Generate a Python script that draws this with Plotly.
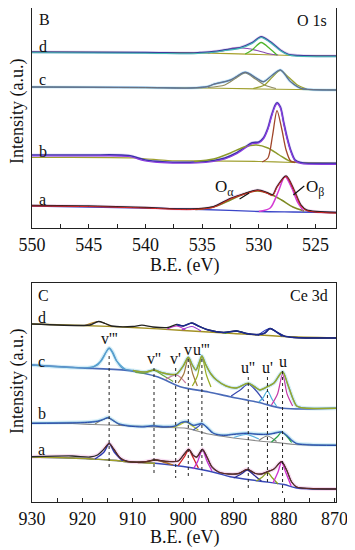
import plotly.graph_objects as go

# ---------------- O 1s panel (B) ----------------
# y in arbitrary intensity units (offset stacked spectra)
Od_E   = [550, 540, 536, 535.2, 534, 533.1, 531.6, 530.6, 529.8, 529.0, 528.1, 527.4, 526.5, 523.2]
Od_raw = [176, 175.5, 175, 175.5, 176.5, 178, 180.7, 185.3, 191.3, 186.3, 178, 173.7, 172.5, 172]
Od_bgE = [550, 540, 535, 530, 527, 523.2]
Od_bg  = [176, 175.5, 175, 173.5, 172.5, 172]
Od_c1E = [534.5, 533.0, 532.3, 531.0, 530.0, 529.0, 528.3]
Od_c1  = [175.2, 177.5, 180, 179.5, 177, 174, 173]
Od_c2E = [531.2, 530.6, 529.8, 529.0, 528.4]
Od_c2  = [174, 178, 185.5, 179, 173]

Oc_E   = [550, 540, 536, 534.5, 534, 532.5, 531.2, 530.2, 529.6, 528.8, 528.1, 527.2, 526.3, 525.5, 523.2]
Oc_raw = [141, 140.5, 140, 141.5, 143.7, 148, 155.7, 149.7, 146.3, 153, 158, 146.3, 139.7, 138.5, 138]
Oc_bgE = [550, 535, 530, 523.2]
Oc_bg  = [141, 140, 139, 138]
Oc_c1E = [534.5, 533.0, 532.0, 531.2, 530.3, 529.5, 528.5]
Oc_c1  = [140.5, 143, 150, 155, 149, 143, 139.5]
Oc_c2E = [530.5, 529.5, 528.8, 528.1, 527.4, 526.6, 525.8]
Oc_c2  = [139.5, 143, 151, 157.5, 151, 143, 139]

Ob_E   = [550, 545, 541.5, 540, 538.5, 535.5, 534, 533, 532, 531.2, 530.6, 530.0, 529.6, 529.2, 528.9, 528.6, 528.4, 528.1, 527.8, 527.5, 527.2, 526.8, 526.3, 523.2]
Ob_raw = [73, 73, 72.5, 68, 66.3, 66, 67.5, 70, 75, 81, 85.3, 86, 90, 100, 112, 122, 125.3, 121, 105, 90, 78, 68, 65.5, 64.7]
Ob_bgE = [550, 541, 538, 535, 530, 527, 523.2]
Ob_bg  = [70.5, 70, 67.5, 67, 66.5, 65.5, 65]
Ob_c1E = [535.7, 534.0, 532.5, 531.3, 530.2, 529.2, 528.2, 527.3, 526.5]
Ob_c1  = [66.5, 69, 75, 81, 83, 80, 73, 67, 65.5]
Ob_c2E = [529.7, 529.2, 528.8, 528.4, 528.0, 527.6, 527.2, 526.8]
Ob_c2  = [66, 70, 92, 117.3, 100, 78, 67, 65.5]

Oa_E   = [550, 545, 540, 536, 534, 532.5, 531.2, 530.1, 529.3, 528.8, 528.4, 527.6, 526.9, 526.3, 525.8, 523.2]
Oa_raw = [22.5, 22, 20.5, 19, 21.3, 29.7, 34.7, 38, 35.5, 33, 41.3, 52, 38, 23, 18, 15.5]
Oa_bgE = [550, 540, 535, 530, 527, 523.2]
Oa_bg  = [22, 20, 18.5, 16.5, 16, 15.5]
Oa_c1E = [535.6, 534.0, 532.5, 531.2, 530.1, 529.0, 528.0, 527.0, 526.0]
Oa_c1  = [18.5, 21, 28, 34.5, 37, 34, 28, 21, 17]
Oa_c2E = [530.0, 529.0, 528.3, 527.7, 527.1, 526.6, 526.1]
Oa_c2  = [16.5, 20, 36, 51.5, 40, 26, 17.5]

O_labels = ["d", "c", "b", "a"]
O_label_y = [182, 149, 77, 29]

# ---------------- Ce 3d panel (C) ----------------
Cd_E   = [930, 920, 918.5, 916.8, 915.5, 914.2, 910, 908.2, 906, 903, 901.3, 900.0, 898.3, 897.0, 895, 892, 889.4, 887.5, 885, 883.8, 882.8, 881.5, 880, 878, 869.7]
Cd_raw = [178, 176.5, 177, 180.5, 178.5, 176, 175.5, 176.8, 175, 174.5, 177.5, 176, 179, 176, 172, 169.5, 171, 168.5, 167.5, 169, 173.5, 170, 166, 164.5, 164]
Cd_bgE = [930, 920, 910, 900, 890, 880, 869.7]
Cd_bg  = [178, 176.5, 174.5, 171.5, 168.5, 165.5, 164]
Cd_c1E = [919.5, 916.8, 914.3]
Cd_c1  = [176.5, 180.5, 175.5]
Cd_c2E = [903.2, 901.3, 899.6]
Cd_c2  = [172.8, 176, 172.3]
Cd_c3E = [900.3, 898.3, 896.5]
Cd_c3  = [172, 175.5, 171]
Cd_c4E = [891.8, 889.4, 887.2]
Cd_c4  = [168.6, 171, 168]
Cd_c5E = [885.2, 882.8, 880.4]
Cd_c5  = [166.5, 173.5, 165.5]

Cc_E   = [930, 922, 918.5, 917, 916, 915.3, 914.7, 914, 913.2, 912, 910, 907.5, 905.8, 904, 902.5, 901.3, 900, 899, 898.2, 897.5, 896.8, 896.3, 895.6, 894.5, 893.4, 891.5, 889.5, 887.1, 885.5, 884.8, 883.3, 882, 880.3, 879.3, 878.3, 877.5, 876, 869.7]
Cc_raw = [137, 134.5, 134.5, 137, 144, 150, 154, 150, 141, 133.5, 131.5, 130, 132, 129, 127.5, 128, 136, 144.7, 137, 132, 140, 146, 138, 128, 122, 116, 114, 118.7, 114, 112, 115.3, 119, 130.3, 118, 104, 96, 94, 93.7]
Cc_bgE = [930, 920, 910.6, 905, 900.6, 895, 890.7, 885, 880.2, 869.7]
Cc_bg  = [137, 134, 131.3, 125, 115.3, 110, 105.3, 99.5, 93.7, 93.7]
Cc_comps = [
    ([918, 916.3, 914.7, 913.2, 911.5], [134.5, 141, 153.5, 141, 132.5]),
    ([909.5, 907.5, 905.8, 903.8, 902], [129.5, 129, 131.5, 126, 120.5]),
    ([903.5, 901.3, 899.5], [122.5, 127, 119]),
    ([901, 899.9, 899, 898.1, 897.2], [119, 128, 144, 128, 116]),
    ([898.2, 897.2, 896.3, 895.4, 894.5], [116, 126, 145.5, 127, 115]),
    ([890.5, 888.7, 887.1, 885.5, 884], [106, 112, 118, 111, 101]),
    ([885, 884.2, 883.3, 882.4, 881.5], [100, 104, 111, 103, 96]),
    ([882.5, 881.3, 880.3, 879.4, 878.3], [97, 108, 128, 108, 96]),
]

Cb_E   = [930, 922, 919, 917, 915.8, 914.9, 914, 912.8, 911, 908, 906, 904, 901.5, 900.3, 899.3, 898, 897, 896.3, 895.3, 894, 892, 890, 887.5, 885, 883.3, 882, 880.5, 879.5, 878.5, 877.5, 875, 869.7]
Cb_raw = [79, 79.5, 80, 81, 83, 84.7, 82, 78.5, 76.5, 75.5, 76.5, 75.5, 76.5, 80, 80.5, 77, 78, 78.7, 75, 69, 67, 68, 69, 68, 68, 69, 70.3, 67, 62, 58.7, 57.5, 57]
Cb_bgE = [930, 922, 918, 914.9, 910, 904, 899.3, 895, 890, 885, 880.5, 878, 869.7]
Cb_bg  = [79, 78.5, 77.5, 77, 76, 74.7, 73.7, 68, 64, 61, 59, 57.5, 57]
Cb_comps = [
    ([917.5, 914.9, 912.5], [78, 84, 76.5]),
    ([902, 900.8, 899.5, 898.3, 897], [74.5, 77, 80, 76.5, 72]),
    ([898, 897, 896.3, 895.3, 894.3], [72, 75.5, 78.5, 74.5, 69.5]),
    ([890, 887.5, 885], [64.5, 67.5, 63]),
    ([885, 883.3, 881.5], [61.5, 66, 60.5]),
    ([882.5, 881.2, 880.5, 879.5, 878.5], [60, 66, 70, 66, 59.5]),
]

Ca_E   = [930, 922, 918.5, 917, 915.7, 914.7, 913.8, 912.5, 911, 908, 905.6, 903, 901, 899.8, 898.9, 898, 897.3, 896.2, 895.3, 894.3, 893, 891, 889, 887.3, 885.7, 884.5, 883.3, 882, 880.5, 879.5, 878.5, 877.5, 875, 869.7]
Ca_raw = [45.3, 46, 45, 47, 53, 58.7, 53, 44, 40.5, 40, 42, 40.5, 41, 48, 52.7, 46.5, 45, 52.7, 45, 35, 30, 28, 28.5, 32.7, 28.5, 28, 30.3, 33, 40.3, 32, 20, 15, 13.5, 13]
Ca_bgE = [930, 922, 918, 914.7, 910, 905.6, 900, 896, 893.4, 890.7, 885, 880, 877.5, 869.7]
Ca_bg  = [45, 44, 43, 42, 40, 38.7, 35.5, 32, 29, 25.3, 21, 17.5, 14, 13]
Ca_comps = [
    ([917.5, 915.7, 914.7, 913.7, 912], [43, 50, 58.5, 50, 41]),
    ([909, 907, 905.6, 904, 902], [39.5, 40.5, 42, 40, 37]),
    ([901, 899.8, 898.9, 898, 897], [36.5, 45, 52.5, 44, 34]),
    ([898, 897.1, 896.2, 895.3, 894.3], [33, 41, 52.5, 41, 31]),
    ([890, 888.5, 887.3, 886, 884.5], [24, 28, 32, 27, 21]),
    ([885.5, 884.3, 883.3, 882.3, 881.2], [21, 25, 29.5, 24, 18]),
    ([882.2, 881.2, 880.5, 879.7, 878.6], [19, 30, 40, 30, 16]),
]

Ce_labels = ["d", "c", "b", "a"]
Ce_label_y = [185, 141, 89, 53]

peak_names = ["v'''", "v''", "v'", "v", "u'''", "u''", "u'", "u"]
peak_E     = [914.7, 905.8, 901.5, 899.0, 896.3, 887.1, 883.3, 880.3]
peak_lab_y = [164, 144, 144, 153, 153, 135, 135, 141]
peak_top   = [146, 134, 134, 143, 143, 125, 125, 131]
peak_bot   = [34, 27, 24, 24, 24, 14, 19, 9]

FONT = "Liberation Serif"
fig = go.Figure()


def line(x, y, color, width=1.3, axis=1, dash=None):
    fig.add_trace(go.Scatter(
        x=x, y=y, mode="lines", line=dict(color=color, width=width, shape="spline", smoothing=0.8, dash=dash),
        xaxis="x" if axis == 1 else "x2", yaxis="y" if axis == 1 else "y2",
        showlegend=False, hoverinfo="skip"))


# ---- top panel traces ----
# d
line(Od_E, Od_raw, "#e3d8f2", 3)
line(Od_bgE, Od_bg, "#a6a02a", 1.2)
line(Od_c1E, Od_c1, "#8a4cb0", 1.2)
line(Od_c2E, Od_c2, "#4fb52a", 1.3)
line(Od_E, Od_raw, "#3b3a9a", 1.4)
line(Od_E, [v - 0.8 for v in Od_raw], "#42bdb5", 1.1)
# c
line(Oc_E, Oc_raw, "#d3ecf8", 3)
line(Oc_bgE, Oc_bg, "#a0a030", 1.2)
line(Oc_c1E, Oc_c1, "#8d8a60", 1.2)
line(Oc_c2E, Oc_c2, "#9aa030", 1.2)
line(Oc_E, Oc_raw, "#4f86c8", 1.4)
line(Oc_E, Oc_raw, "#6f6f78", 1.0)
# b
line(Ob_E, Ob_raw, "#e6dcf7", 3)
line(Ob_bgE, Ob_bg, "#a0a030", 1.2)
line(Ob_E, Ob_raw, "#3a34a8", 1.6)
line(Ob_c1E, Ob_c1, "#8c9a2a", 1.4)
line(Ob_c2E, Ob_c2, "#a0462a", 1.3)
line(Ob_E, [v - 1 for v in Ob_raw], "#8a3ae0", 1.2)
# a
line(Oa_E, Oa_raw, "#f6dcf2", 3)
line(Oa_bgE, Oa_bg, "#3b46c8", 1.3)
line(Oa_c1E, Oa_c1, "#7d8a22", 1.5)
line(Oa_c2E, Oa_c2, "#d43ad4", 1.5)
line(Oa_E, Oa_raw, "#222222", 1.4)
line(Oa_E, [v - 0.6 for v in Oa_raw], "#d82626", 1.0)

# ---- bottom panel traces ----
# d
line(Cd_bgE, Cd_bg, "#a39124", 1.3, 2)
line(Cd_c1E, Cd_c1, "#c08a28", 1.2, 2)
line(Cd_c2E, Cd_c2, "#c02ac8", 1.2, 2)
line(Cd_c3E, Cd_c3, "#9a3ad0", 1.2, 2)
line(Cd_c4E, Cd_c4, "#2f9a30", 1.2, 2)
line(Cd_c5E, Cd_c5, "#2a38c0", 1.2, 2)
line(Cd_E, Cd_raw, "#222222", 1.3, 2)
line([e for e in Cd_E if e < 902], [v for e, v in zip(Cd_E, Cd_raw) if e < 902], "#1c2a90", 1.6, 2)
# c
line(Cc_E, Cc_raw, "#d4eef8", 4, 2)
line(Cc_bgE, Cc_bg, "#4a6ab8", 1.6, 2)
cc_cols = ["#4aa0d0", "#6aa83a", "#c77aa0", "#a07840", "#98ad22", "#3a4ab0", "#4ab0d8", "#c43aa8"]
for (xe, ye), col in zip(Cc_comps, cc_cols):
    line(xe, ye, col, 1.2, 2)
line(Cc_E, Cc_raw, "#5a9ccc", 1.3, 2)
line([e for e in Cc_E if e < 912], [v for e, v in zip(Cc_E, Cc_raw) if e < 912], "#98a828", 1.4, 2)
# b
line(Cb_E, Cb_raw, "#d8f0f8", 4, 2)
line(Cb_bgE, Cb_bg, "#8a8a8a", 1.2, 2)
cb_cols = ["#8a8a70", "#b8c42a", "#3a5ab8", "#5ab0e0", "#7a7a7a", "#2aa048"]
for (xe, ye), col in zip(Cb_comps, cb_cols):
    line(xe, ye, col, 1.2, 2)
line(Cb_E, Cb_raw, "#5a90c8", 1.3, 2)
line(Cb_E, [v - 0.5 for v in Cb_raw], "#2a4aa8", 1.0, 2)
# a
line(Ca_E, Ca_raw, "#f8def2", 4, 2)
line(Ca_bgE, Ca_bg, "#3848b8", 1.4, 2)
line([e for e in Ca_bgE if e > 905], [v for e, v in zip(Ca_bgE, Ca_bg) if e > 905], "#a0a028", 1.4, 2)
ca_cols = ["#2a3ab0", "#a86a28", "#d02020", "#c030d0", "#2a2a90", "#8aa020", "#d030d0"]
for (xe, ye), col in zip(Ca_comps, ca_cols):
    line(xe, ye, col, 1.3, 2)
line(Ca_E, Ca_raw, "#2a2a2a", 1.3, 2)
line([e for e in Ca_E if e < 917], [v for e, v in zip(Ca_E, Ca_raw) if e < 917], "#6a2a2a", 1.0, 2)

# dashed guide lines
for e, t, b in zip(peak_E, peak_top, peak_bot):
    fig.add_trace(go.Scatter(x=[e, e], y=[t, b], mode="lines", xaxis="x2", yaxis="y2",
                             line=dict(color="#222222", width=1, dash="3px,3px"),
                             showlegend=False, hoverinfo="skip"))

fig.add_trace(go.Scatter(x=[531.7, 530.85], y=[29, 35], mode="lines", xaxis="x", yaxis="y",
                         line=dict(color="#111111", width=1.2), showlegend=False, hoverinfo="skip"))
fig.add_trace(go.Scatter(x=[526.96, 526.0], y=[33, 42], mode="lines", xaxis="x", yaxis="y",
                         line=dict(color="#111111", width=1.2), showlegend=False, hoverinfo="skip"))

ann = []
# panel labels
ann.append(dict(x=549.6, y=209, xref="x", yref="y", text="B", showarrow=False, xanchor="left", font=dict(size=16)))
ann.append(dict(x=523.8, y=208, xref="x", yref="y", text="O 1s", showarrow=False, xanchor="right", font=dict(size=16)))
ann.append(dict(x=929.3, y=207, xref="x2", yref="y2", text="C", showarrow=False, xanchor="left", font=dict(size=16)))
ann.append(dict(x=870.8, y=207, xref="x2", yref="y2", text="Ce 3d", showarrow=False, xanchor="right", font=dict(size=16)))
for t, yv in zip(O_labels, O_label_y):
    ann.append(dict(x=549.6, y=yv, xref="x", yref="y", text=t, showarrow=False, xanchor="left", font=dict(size=16)))
for t, yv in zip(Ce_labels, Ce_label_y):
    ann.append(dict(x=929.3, y=yv, xref="x2", yref="y2", text=t, showarrow=False, xanchor="left", font=dict(size=16)))
for n, e, yv in zip(peak_names, peak_E, peak_lab_y):
    ann.append(dict(x=e, y=yv, xref="x2", yref="y2", text=n, showarrow=False, font=dict(size=16)))
# O alpha / O beta
ann.append(dict(x=532.0, y=40, xref="x", yref="y", text="O<sub>α</sub>", showarrow=False, xanchor="right", font=dict(size=17)))
ann.append(dict(x=526.0, y=40, xref="x", yref="y", text="O<sub>β</sub>", showarrow=False, xanchor="left", font=dict(size=17)))
# axis titles (screen positions converted to paper fractions of the 304x494 plot area;
# the page body adds an 8px offset, so screen y = figure y + 8)
title_common = dict(xref="paper", yref="paper", showarrow=False, xanchor="center", yanchor="middle",
                    font=dict(size=18))
ann.append(dict(x=0.5, y=(502 - 265) / 494, text="B.E. (eV)", **title_common))
ann.append(dict(x=0.5, y=(502 - 537) / 494, text="B.E. (eV)", **title_common))
ann.append(dict(x=(17 - 32) / 304, y=(502 - 112) / 494, text="Intensity (a.u.)", textangle=-90, **title_common))
ann.append(dict(x=(17 - 32) / 304, y=(502 - 382) / 494, text="Intensity (a.u.)", textangle=-90, **title_common))

axis_common = dict(showline=True, mirror=True, linecolor="#222222", linewidth=1.2, showgrid=False,
                   zeroline=False, ticks="inside", ticklen=4, tickcolor="#222222",
                   ticklabeloverflow="allow",
                   tickfont=dict(size=18, color="#111111", family=FONT))
yaxis_common = dict(showticklabels=False, showline=True, mirror=True, linecolor="#222222", linewidth=1.2,
                    showgrid=False, zeroline=False, ticks="")
fig.update_layout(
    width=355, height=550,
    # the page body has an 8px default margin; margins compensate so the plot box lands at screen x 32-336, y 8-502
    margin=dict(l=24, r=27, t=0, b=56),
    paper_bgcolor="white", plot_bgcolor="white",
    font=dict(family=FONT, color="#111111"),
    xaxis=dict(range=[550, 523.2], dtick=5, tick0=550, anchor="y",
               minor=dict(dtick=2.5, ticks="inside", ticklen=4, tickcolor="#222222"), **axis_common),
    yaxis=dict(range=[0, 220], domain=[274 / 494, 1], anchor="x", **yaxis_common),
    xaxis2=dict(range=[930, 869.7], dtick=10, tick0=930, anchor="y2",
                minor=dict(dtick=5, ticks="inside", ticklen=4, tickcolor="#222222"), **axis_common),
    yaxis2=dict(range=[0, 219], domain=[0, 219 / 494], anchor="x2", **yaxis_common),
    annotations=ann,
)

fig.write_html("out.html")
